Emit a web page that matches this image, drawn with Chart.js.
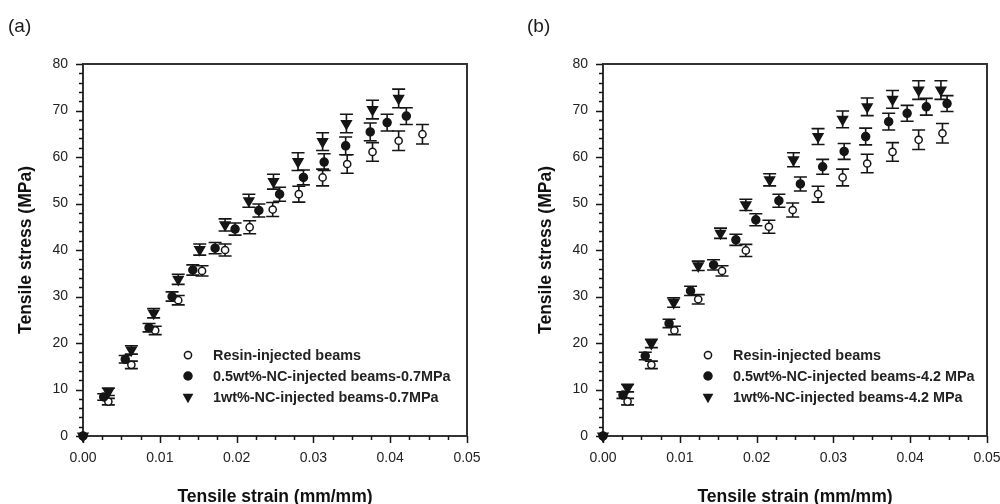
<!DOCTYPE html>
<html>
<head>
<meta charset="utf-8">
<script src="https://cdn.jsdelivr.net/npm/chart.js@4.4.1/dist/chart.umd.min.js"></script>
<style>
  html, body { margin: 0; background: #fff; overflow: hidden; }
  #wrap { position: relative; width: 1000px; height: 504px; overflow: hidden; }
  .panel { position: absolute; top: 0; width: 500px; height: 504px; }
  #panelA { left: 0; }
  #panelB { left: 520px; }
  .tag { position: absolute; top: 15px; font: 19px "Liberation Sans", Arial, sans-serif; line-height: 22px; color: #1a1a1a; }
</style>
</head>
<body>
<div id="wrap">
  <div class="panel" id="panelA"><canvas id="chartA"></canvas></div>
  <div class="panel" id="panelB"><canvas id="chartB"></canvas></div>
  <div class="tag" style="left:8px">(a)</div>
  <div class="tag" style="left:527px">(b)</div>
</div>
<script>
// axis tick labels
const strainTicks = ['0.00', '0.01', '0.02', '0.03', '0.04', '0.05'];
const stressTicks = ['0', '10', '20', '30', '40', '50', '60', '70', '80'];

// (a) 0.7 MPa injection
const strainResinA = [0, 0.0033, 0.0063, 0.0094, 0.0124, 0.0155, 0.0185, 0.0217, 0.0247, 0.0281, 0.0312, 0.0344, 0.0377, 0.0411, 0.0442];
const stressResinA = [0, 7.4, 15.3, 22.7, 29.2, 35.5, 40.0, 44.9, 48.7, 52.0, 55.6, 58.5, 61.1, 63.5, 64.9];
const errResinA    = [0, 0.7, 0.8, 0.9, 1.0, 1.1, 1.3, 1.4, 1.5, 1.7, 1.8, 2.0, 2.0, 2.1, 2.1];

const strainHalfA = [0, 0.0027, 0.0055, 0.0086, 0.0116, 0.0143, 0.0172, 0.0198, 0.0229, 0.0256, 0.0287, 0.0314, 0.0342, 0.0374, 0.0396, 0.0421];
const stressHalfA = [0, 8.4, 16.5, 23.3, 30.0, 35.7, 40.4, 44.5, 48.5, 52.0, 55.6, 58.9, 62.4, 65.4, 67.4, 68.8];
const errHalfA    = [0, 0.7, 0.8, 0.9, 1.0, 1.1, 1.2, 1.3, 1.4, 1.5, 1.6, 1.8, 1.9, 1.9, 1.8, 1.8];

const strainOneA = [0, 0.0033, 0.0063, 0.0092, 0.0124, 0.0152, 0.0185, 0.0216, 0.0248, 0.0280, 0.0312, 0.0343, 0.0377, 0.0411];
const stressOneA = [0, 9.5, 18.5, 26.4, 33.7, 40.1, 45.4, 50.6, 54.7, 59.0, 63.3, 67.2, 70.2, 72.6];
const errOneA    = [0, 0.8, 0.9, 1.0, 1.1, 1.2, 1.3, 1.4, 1.6, 1.9, 1.9, 2.0, 2.0, 2.0];

// (b) 4.2 MPa injection
const strainResinB = [0, 0.0032, 0.0063, 0.0093, 0.0124, 0.0155, 0.0186, 0.0216, 0.0247, 0.0280, 0.0312, 0.0344, 0.0377, 0.0411, 0.0442];
const stressResinB = [0, 7.4, 15.3, 22.7, 29.4, 35.5, 39.9, 45.0, 48.6, 52.0, 55.6, 58.6, 61.1, 63.7, 65.1];
const errResinB    = [0, 0.7, 0.8, 0.9, 1.0, 1.1, 1.3, 1.4, 1.5, 1.7, 1.8, 2.0, 2.0, 2.1, 2.1];

const strainHalfB = [0, 0.0026, 0.0055, 0.0086, 0.0114, 0.0144, 0.0173, 0.0199, 0.0229, 0.0257, 0.0286, 0.0314, 0.0342, 0.0372, 0.0396, 0.0421, 0.0448];
const stressHalfB = [0, 8.8, 17.2, 24.2, 31.2, 36.8, 42.2, 46.5, 50.6, 54.2, 57.9, 61.2, 64.4, 67.6, 69.4, 70.8, 71.5];
const errHalfB    = [0, 0.7, 0.8, 0.9, 1.0, 1.1, 1.2, 1.3, 1.4, 1.5, 1.6, 1.7, 1.8, 1.8, 1.7, 1.8, 1.7];

const strainOneB = [0, 0.0032, 0.0063, 0.0092, 0.0124, 0.0153, 0.0186, 0.0217, 0.0248, 0.0280, 0.0312, 0.0344, 0.0377, 0.0411, 0.0440];
const stressOneB = [0, 10.3, 19.9, 28.7, 36.6, 43.6, 49.7, 55.1, 59.4, 64.4, 68.1, 70.8, 72.4, 74.4, 74.4];
const errOneB    = [0, 0.8, 0.9, 1.0, 1.0, 1.1, 1.2, 1.3, 1.5, 1.7, 1.8, 1.9, 1.9, 2.0, 2.0];

const labelsA = ['Resin-injected beams', '0.5wt%-NC-injected beams-0.7MPa', '1wt%-NC-injected beams-0.7MPa'];
const labelsB = ['Resin-injected beams', '0.5wt%-NC-injected beams-4.2 MPa', '1wt%-NC-injected beams-4.2 MPa'];

const INK = '#151515';
const FONT = '"Liberation Sans", Arial, sans-serif';

function toPoints(xs, ys) {
  return xs.map((x, i) => ({ x: x, y: ys[i] }));
}

function series(label, xs, ys, errs, kind) {
  const base = {
    label: label,
    data: toPoints(xs, ys),
    errors: errs,
    showLine: false,
    clip: false,
    borderColor: INK,
    pointBorderColor: INK,
    pointBorderWidth: 1.5
  };
  if (kind === 'open') {
    return Object.assign(base, { order: 3, pointStyle: 'circle', pointRadius: 3.6, pointBackgroundColor: '#fff' });
  }
  if (kind === 'filled') {
    return Object.assign(base, { order: 2, pointStyle: 'circle', pointRadius: 4, pointBackgroundColor: INK });
  }
  return Object.assign(base, { order: 1, pointStyle: 'triangle', rotation: 180, pointRadius: 5.6, pointBackgroundColor: INK });
}

// frame, minor ticks, error bars and the inset legend
const beamPlot = {
  id: 'beamPlot',
  beforeDatasetsDraw(chart) {
    const ctx = chart.ctx;
    const xs = chart.scales.x, ys = chart.scales.y;
    ctx.save();
    ctx.strokeStyle = INK;
    ctx.lineWidth = 1.6;
    chart.data.datasets.forEach(ds => {
      ds.data.forEach((p, i) => {
        const e = ds.errors[i];
        if (!e) return;
        const px = xs.getPixelForValue(p.x);
        const top = ys.getPixelForValue(p.y + e);
        const bot = ys.getPixelForValue(p.y - e);
        ctx.beginPath();
        ctx.moveTo(px, top); ctx.lineTo(px, bot);
        ctx.moveTo(px - 6.5, top); ctx.lineTo(px + 6.5, top);
        ctx.moveTo(px - 6.5, bot); ctx.lineTo(px + 6.5, bot);
        ctx.stroke();
      });
    });
    ctx.restore();
  },
  afterDraw(chart, args, opts) {
    const ctx = chart.ctx;
    const a = chart.chartArea;
    const xs = chart.scales.x, ys = chart.scales.y;
    ctx.save();
    ctx.strokeStyle = '#333';
    ctx.lineWidth = 2;
    ctx.beginPath();
    ctx.moveTo(a.left, a.top); ctx.lineTo(a.right, a.top); ctx.lineTo(a.right, a.bottom);
    ctx.stroke();

    ctx.strokeStyle = INK;
    ctx.lineWidth = 1.5;
    ctx.beginPath();
    for (let k = 0; k <= 20; k++) {
      const px = Math.round(xs.getPixelForValue(k * 0.0025)) + 0.5;
      const len = k % 4 === 0 ? 7 : 4;
      ctx.moveTo(px, a.bottom); ctx.lineTo(px, a.bottom + len);
    }
    for (let k = 0; k <= 40; k++) {
      const py = Math.round(ys.getPixelForValue(k * 2)) + 0.5;
      const len = k % 5 === 0 ? 7 : 4;
      ctx.moveTo(a.left, py); ctx.lineTo(a.left - len, py);
    }
    ctx.stroke();

    // legend
    const lx = xs.getPixelForValue(opts.markerAt);
    ctx.font = 'bold 14.4px ' + FONT;
    ctx.textBaseline = 'middle';
    chart.data.datasets.forEach((ds, i) => {
      const ly = ys.getPixelForValue(opts.rows[i]);
      ctx.beginPath();
      ctx.lineWidth = 1.5;
      ctx.strokeStyle = INK;
      if (ds.pointStyle === 'triangle') {
        const r = 6.2;
        ctx.moveTo(lx - r * 0.87, ly - r * 0.5);
        ctx.lineTo(lx + r * 0.87, ly - r * 0.5);
        ctx.lineTo(lx, ly + r);
        ctx.closePath();
        ctx.fillStyle = INK; ctx.fill();
      } else {
        ctx.arc(lx, ly, ds.pointRadius, 0, Math.PI * 2);
        ctx.fillStyle = ds.pointBackgroundColor; ctx.fill();
        ctx.stroke();
      }
      ctx.fillStyle = '#222';
      ctx.fillText(ds.label, lx + 25, ly + 1);
    });
    ctx.restore();
  }
};

function makePanel(id, sets) {
  return new Chart(document.getElementById(id), {
    type: 'scatter',
    data: { datasets: sets },
    plugins: [beamPlot],
    options: {
      responsive: false,
      animation: false,
      layout: { padding: { top: 64, right: 33, left: 0, bottom: 0 } },
      plugins: {
        legend: { display: false },
        tooltip: { enabled: false },
        beamPlot: { markerAt: 0.01367, rows: [17.4, 12.9, 8.4] }
      },
      scales: {
        x: {
          type: 'linear', min: 0, max: 0.05,
          afterFit: s => { s.height = 68; },
          ticks: {
            stepSize: 0.01, padding: 14, color: '#222', maxRotation: 0,
            font: { size: 14, family: FONT },
            callback: v => strainTicks[Math.round(v / 0.01)]
          },
          grid: { drawOnChartArea: false, drawTicks: false },
          border: { display: true, color: '#333', width: 2 },
          title: {
            display: true, text: 'Tensile strain (mm/mm)', color: '#111',
            font: { size: 17.5, weight: 'bold', family: FONT, lineHeight: 0.8 },
            padding: { top: 0, bottom: 0 }
          }
        },
        y: {
          type: 'linear', min: 0, max: 80,
          afterFit: s => { s.width = 83; },
          ticks: {
            stepSize: 10, padding: 15, color: '#222',
            font: { size: 14, family: FONT },
            callback: v => stressTicks[Math.round(v / 10)]
          },
          grid: { drawOnChartArea: false, drawTicks: false },
          border: { display: true, color: '#333', width: 2 },
          title: {
            display: true, text: 'Tensile stress (MPa)', color: '#111',
            font: { size: 17.5, weight: 'bold', family: FONT, lineHeight: 1 },
            padding: { top: 17, bottom: 0 }
          }
        }
      }
    }
  });
}

function sizeCanvas(id) {
  const c = document.getElementById(id);
  c.width = 500; c.height = 504;
  c.style.width = '500px'; c.style.height = '504px';
}
sizeCanvas('chartA');
sizeCanvas('chartB');

makePanel('chartA', [
  series(labelsA[0], strainResinA, stressResinA, errResinA, 'open'),
  series(labelsA[1], strainHalfA, stressHalfA, errHalfA, 'filled'),
  series(labelsA[2], strainOneA, stressOneA, errOneA, 'tri')
]);
makePanel('chartB', [
  series(labelsB[0], strainResinB, stressResinB, errResinB, 'open'),
  series(labelsB[1], strainHalfB, stressHalfB, errHalfB, 'filled'),
  series(labelsB[2], strainOneB, stressOneB, errOneB, 'tri')
]);
</script>
</body>
</html>
